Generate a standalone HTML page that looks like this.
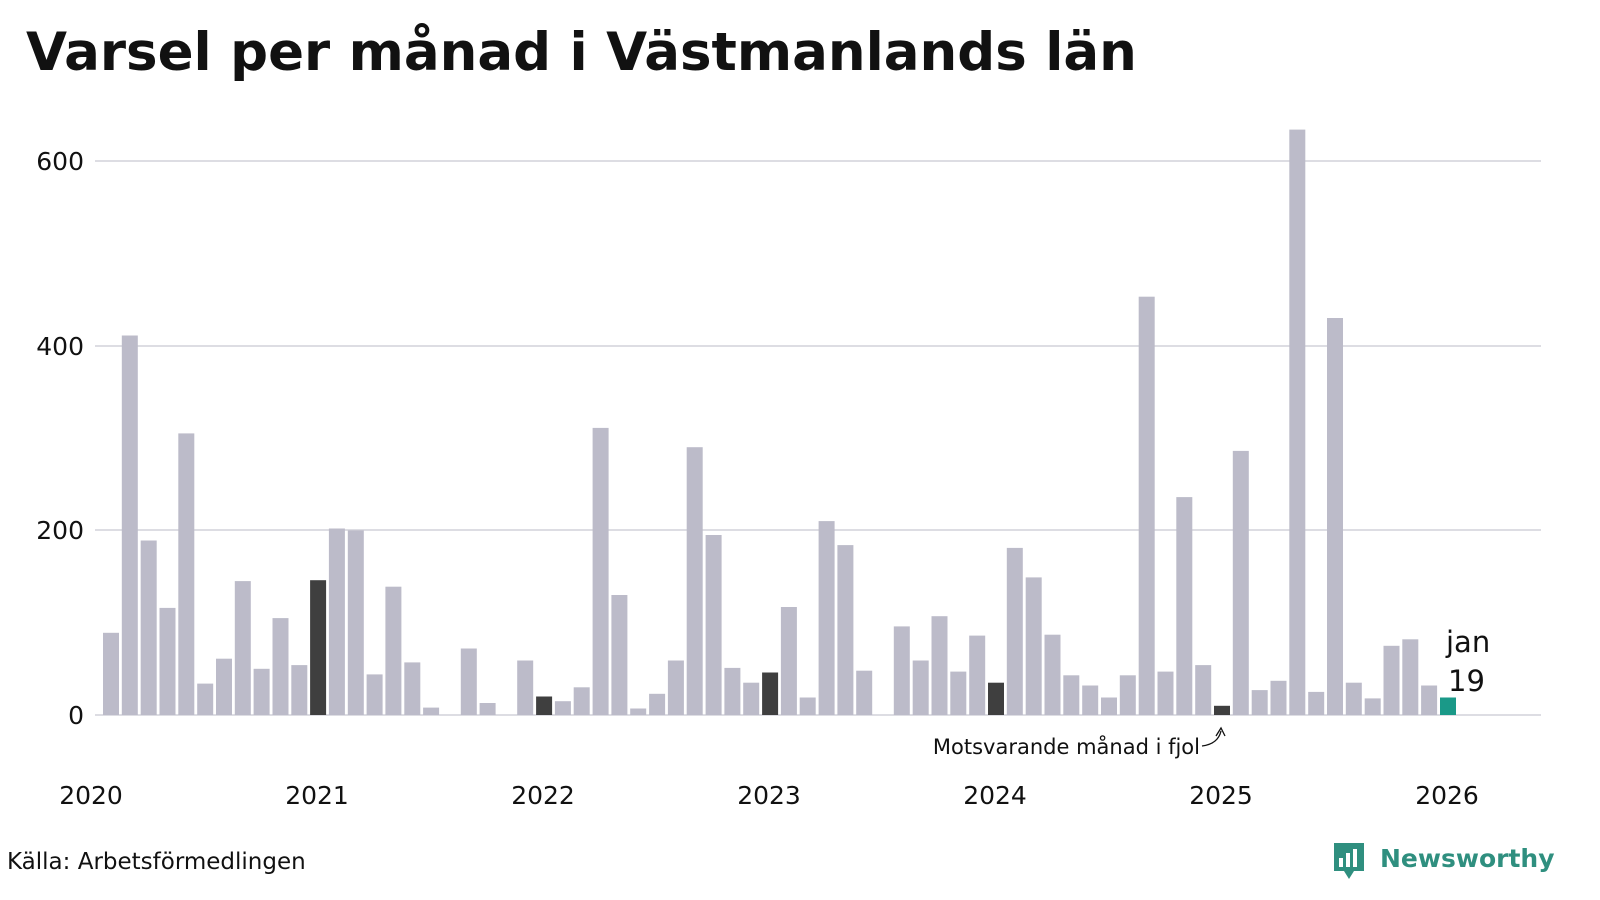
<!DOCTYPE html>
<html><head><meta charset="utf-8"><style>
html,body{margin:0;padding:0;background:#fff;}
svg{display:block;font-family:"DejaVu Sans","Liberation Sans",sans-serif;}
</style></head><body>
<svg width="1600" height="900" viewBox="0 0 1600 900" xmlns="http://www.w3.org/2000/svg">
<text x="26" y="70" font-size="53" font-weight="bold" fill="#111">Varsel per månad i Västmanlands län</text>
<g stroke="#dddde3" stroke-width="2">
<line x1="95" x2="1541" y1="161" y2="161"/>
<line x1="95" x2="1541" y1="346" y2="346"/>
<line x1="95" x2="1541" y1="530" y2="530"/>
<line x1="95" x2="1541" y1="715" y2="715"/>
</g>
<g font-size="25" fill="#111" text-anchor="end">
<text x="84" y="170">600</text><text x="84" y="355">400</text><text x="84" y="539">200</text><text x="84" y="724">0</text>
</g>
<g font-size="25" fill="#111" text-anchor="middle">
<text x="91" y="804">2020</text><text x="317" y="804">2021</text><text x="543" y="804">2022</text><text x="769" y="804">2023</text><text x="995" y="804">2024</text><text x="1221" y="804">2025</text><text x="1447" y="804">2026</text>
</g>
<g fill="#bcbbc9">
<rect x="103.0" y="632.8" width="16" height="82.2"/>
<rect x="121.8" y="335.5" width="16" height="379.5"/>
<rect x="140.7" y="540.5" width="16" height="174.5"/>
<rect x="159.5" y="607.9" width="16" height="107.1"/>
<rect x="178.3" y="433.4" width="16" height="281.6"/>
<rect x="197.2" y="683.6" width="16" height="31.4"/>
<rect x="216.0" y="658.7" width="16" height="56.3"/>
<rect x="234.8" y="581.1" width="16" height="133.9"/>
<rect x="253.6" y="668.8" width="16" height="46.2"/>
<rect x="272.5" y="618.1" width="16" height="96.9"/>
<rect x="291.3" y="665.1" width="16" height="49.9"/>
<rect x="328.9" y="528.5" width="16" height="186.5"/>
<rect x="347.8" y="530.3" width="16" height="184.7"/>
<rect x="366.6" y="674.4" width="16" height="40.6"/>
<rect x="385.4" y="586.7" width="16" height="128.3"/>
<rect x="404.3" y="662.4" width="16" height="52.6"/>
<rect x="423.1" y="707.6" width="16" height="7.4"/>
<rect x="460.8" y="648.5" width="16" height="66.5"/>
<rect x="479.6" y="703.0" width="16" height="12.0"/>
<rect x="517.2" y="660.5" width="16" height="54.5"/>
<rect x="554.9" y="701.2" width="16" height="13.8"/>
<rect x="573.7" y="687.3" width="16" height="27.7"/>
<rect x="592.6" y="427.9" width="16" height="287.1"/>
<rect x="611.4" y="595.0" width="16" height="120.0"/>
<rect x="630.2" y="708.5" width="16" height="6.5"/>
<rect x="649.1" y="693.8" width="16" height="21.2"/>
<rect x="667.9" y="660.5" width="16" height="54.5"/>
<rect x="686.7" y="447.2" width="16" height="267.8"/>
<rect x="705.6" y="535.0" width="16" height="180.0"/>
<rect x="724.4" y="667.9" width="16" height="47.1"/>
<rect x="743.2" y="682.7" width="16" height="32.3"/>
<rect x="780.9" y="607.0" width="16" height="108.0"/>
<rect x="799.7" y="697.5" width="16" height="17.5"/>
<rect x="818.6" y="521.1" width="16" height="193.9"/>
<rect x="837.4" y="545.1" width="16" height="169.9"/>
<rect x="856.2" y="670.7" width="16" height="44.3"/>
<rect x="893.8" y="626.4" width="16" height="88.6"/>
<rect x="912.7" y="660.5" width="16" height="54.5"/>
<rect x="931.5" y="616.2" width="16" height="98.8"/>
<rect x="950.3" y="671.6" width="16" height="43.4"/>
<rect x="969.2" y="635.6" width="16" height="79.4"/>
<rect x="1006.8" y="547.9" width="16" height="167.1"/>
<rect x="1025.7" y="577.4" width="16" height="137.6"/>
<rect x="1044.5" y="634.7" width="16" height="80.3"/>
<rect x="1063.3" y="675.3" width="16" height="39.7"/>
<rect x="1082.2" y="685.5" width="16" height="29.5"/>
<rect x="1101.0" y="697.5" width="16" height="17.5"/>
<rect x="1119.8" y="675.3" width="16" height="39.7"/>
<rect x="1138.7" y="296.7" width="16" height="418.3"/>
<rect x="1157.5" y="671.6" width="16" height="43.4"/>
<rect x="1176.3" y="497.1" width="16" height="217.9"/>
<rect x="1195.2" y="665.1" width="16" height="49.9"/>
<rect x="1232.8" y="450.9" width="16" height="264.1"/>
<rect x="1251.7" y="690.1" width="16" height="24.9"/>
<rect x="1270.5" y="680.8" width="16" height="34.2"/>
<rect x="1289.3" y="129.6" width="16" height="585.4"/>
<rect x="1308.2" y="691.9" width="16" height="23.1"/>
<rect x="1327.0" y="318.0" width="16" height="397.0"/>
<rect x="1345.8" y="682.7" width="16" height="32.3"/>
<rect x="1364.7" y="698.4" width="16" height="16.6"/>
<rect x="1383.5" y="645.8" width="16" height="69.2"/>
<rect x="1402.3" y="639.3" width="16" height="75.7"/>
<rect x="1421.1" y="685.5" width="16" height="29.5"/>
</g>
<g fill="#3f3f3f">
<rect x="310.1" y="580.2" width="16" height="134.8"/>
<rect x="536.1" y="696.5" width="16" height="18.5"/>
<rect x="762.1" y="672.5" width="16" height="42.5"/>
<rect x="988.0" y="682.7" width="16" height="32.3"/>
<rect x="1214.0" y="705.8" width="16" height="9.2"/>
</g>
<rect x="1440.0" y="697.5" width="16" height="17.5" fill="#1a9988"/>
<text x="1446" y="652" font-size="29" fill="#111">jan</text>
<text x="1448" y="691" font-size="29" fill="#111">19</text>
<text x="1200" y="754" font-size="21" fill="#111" text-anchor="end">Motsvarande månad i fjol</text>
<path d="M1202 746 Q1218 744 1221 731" fill="none" stroke="#111" stroke-width="1.3"/>
<path d="M1216 736 L1221 728 L1225 736" fill="none" stroke="#111" stroke-width="1.3"/>
<text x="7" y="869" font-size="23" fill="#111">Källa: Arbetsförmedlingen</text>
<path d="M1334 843 h30 v28 h-10 l-5 8 l-5 -8 h-10 z" fill="#2f8f7f"/>
<g fill="#fff"><rect x="1339" y="858" width="4" height="9"/><rect x="1346" y="853" width="4" height="14"/><rect x="1353" y="849" width="4" height="18"/></g>
<text x="1380" y="867" font-size="25" font-weight="bold" fill="#2f8f7f">Newsworthy</text>
</svg>
</body></html>
